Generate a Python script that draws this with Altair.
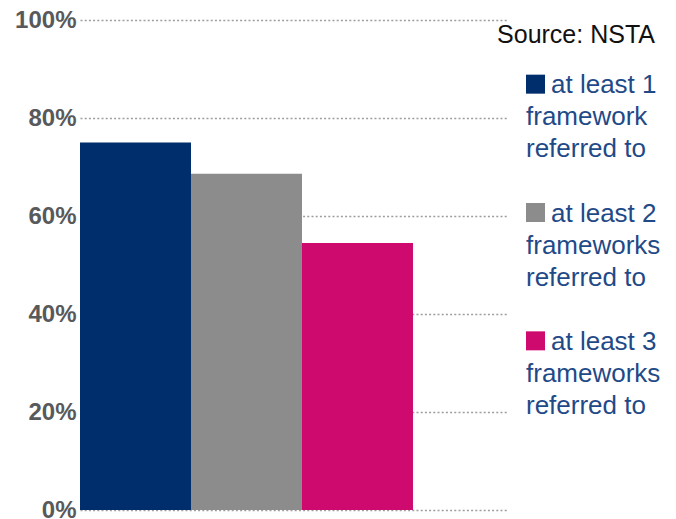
import altair as alt
import pandas as pd

categories = ["at least 1 framework referred to",
              "at least 2 frameworks referred to",
              "at least 3 frameworks referred to"]
values = [75.0, 68.6, 54.5]
colors = ["#002d6b", "#8c8c8c", "#cf0a6e"]
legend_first = ["at least 1", "at least 2", "at least 3"]
legend_rest = ["framework\nreferred to",
               "frameworks\nreferred to",
               "frameworks\nreferred to"]
y_ticks = [0, 20, 40, 60, 80, 100]
source = "Source: NSTA"

df = pd.DataFrame({"cat": categories, "value": values,
                   "first": legend_first, "rest": legend_rest})
color_scale = alt.Scale(domain=categories, range=colors)
FONT = "Liberation Sans"
LEG_COLOR = "#1f4a87"

bars = alt.Chart(df).mark_bar().encode(
    x=alt.X("cat:N", sort=categories, axis=None,
            scale=alt.Scale(paddingInner=0, paddingOuter=0.428, align=0)),
    y=alt.Y("value:Q", scale=alt.Scale(domain=[0, 100], nice=False),
            axis=alt.Axis(values=y_ticks, labelExpr="datum.value + '%'",
                          title=None, domain=False, ticks=False, tickSize=0,
                          labelFont=FONT, labelFontSize=24, labelFontWeight="bold",
                          labelColor="#58595b", labelPadding=4,
                          grid=True, gridDash=[2, 2.2], gridWidth=1.6,
                          gridColor="#9d9d9d")),
    color=alt.Color("cat:N", scale=color_scale, legend=None),
).properties(width=428, height=490)

leg_y = alt.Y("cat:N", sort=categories, axis=None,
              scale=alt.Scale(type="point", padding=0.5))
squares = alt.Chart(df).mark_square(size=361, opacity=1).encode(
    x=alt.value(9.5), y=leg_y,
    color=alt.Color("cat:N", scale=color_scale, legend=None),
)
first_line = alt.Chart(df).mark_text(
    align="left", baseline="alphabetic", dy=9, font=FONT, fontSize=26,
    color=LEG_COLOR
).encode(x=alt.value(25), y=leg_y, text="first:N")
rest_lines = alt.Chart(df).mark_text(
    align="left", baseline="alphabetic", dy=41, font=FONT, fontSize=26,
    lineHeight=32, lineBreak="\n", color=LEG_COLOR
).encode(x=alt.value(0), y=leg_y, text="rest:N")
src = alt.Chart(pd.DataFrame({"t": [source]})).mark_text(
    align="right", baseline="middle", font=FONT, fontSize=25, color="#111111"
).encode(x=alt.value(129), y=alt.value(15), text="t:N")

legend_panel = alt.layer(squares, first_line, rest_lines, src).properties(
    width=148, height=385)

chart = alt.hconcat(bars, legend_panel, spacing=18, bounds="flush").properties(
    padding={"left": 14, "top": 8, "right": 0, "bottom": 0}
).configure_view(stroke=None)

chart.save("out.html", embed_options={"renderer": "svg", "actions": False})
